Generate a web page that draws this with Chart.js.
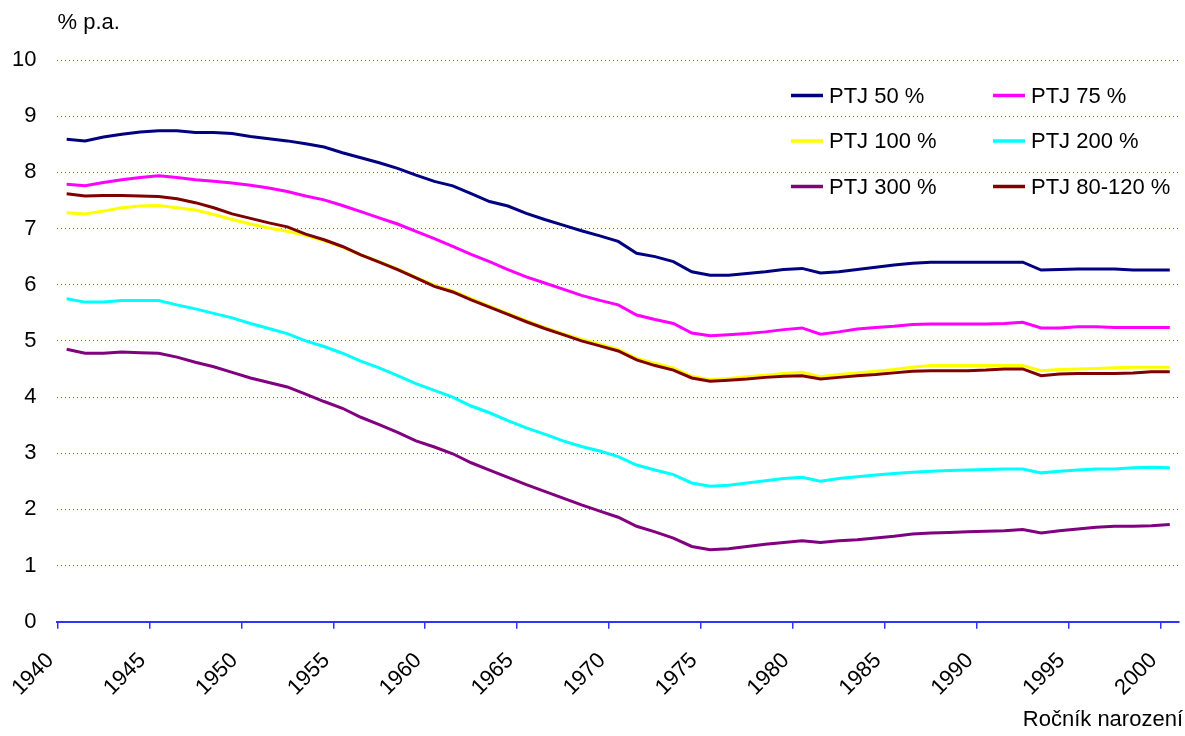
<!DOCTYPE html>
<html><head><meta charset="utf-8">
<script src="https://cdn.jsdelivr.net/npm/chart.js@4.4.1/dist/chart.umd.min.js"></script>
<style>html,body{margin:0;padding:0;background:#fff;}</style>
</head><body>
<canvas id="c" width="1185" height="736"></canvas>
<script>
// ---- data ----
const years = [1940,1941,1942,1943,1944,1945,1946,1947,1948,1949,
  1950,1951,1952,1953,1954,1955,1956,1957,1958,1959,
  1960,1961,1962,1963,1964,1965,1966,1967,1968,1969,
  1970,1971,1972,1973,1974,1975,1976,1977,1978,1979,
  1980,1981,1982,1983,1984,1985,1986,1987,1988,1989,
  1990,1991,1992,1993,1994,1995,1996,1997,1998,1999,2000];
const xTickLabels = ['1940','1945','1950','1955','1960','1965','1970','1975','1980','1985','1990','1995','2000'];
const seriesNames = ['PTJ 50 %','PTJ 75 %','PTJ 100 %','PTJ 200 %','PTJ 300 %','PTJ 80-120 %'];
const ptj50 = [8.59,8.56,8.63,8.68,8.72,8.74,8.74,8.71,8.71,8.69,
  8.64,8.60,8.56,8.51,8.45,8.35,8.26,8.17,8.07,7.95,
  7.84,7.76,7.62,7.48,7.40,7.27,7.16,7.06,6.96,6.87,
  6.77,6.56,6.50,6.41,6.23,6.17,6.17,6.20,6.23,6.27,
  6.29,6.21,6.23,6.27,6.31,6.35,6.38,6.40,6.40,6.40,
  6.40,6.40,6.40,6.26,6.27,6.28,6.28,6.28,6.26,6.26,6.26];
const ptj75 = [7.79,7.76,7.82,7.87,7.91,7.94,7.91,7.87,7.84,7.81,
  7.77,7.72,7.66,7.58,7.51,7.41,7.30,7.19,7.08,6.95,
  6.82,6.68,6.54,6.41,6.27,6.14,6.03,5.92,5.81,5.72,
  5.64,5.46,5.38,5.31,5.14,5.09,5.11,5.13,5.16,5.20,
  5.23,5.12,5.16,5.21,5.24,5.26,5.29,5.30,5.30,5.30,
  5.30,5.31,5.33,5.23,5.23,5.25,5.25,5.24,5.24,5.24,5.24];
const ptj100 = [7.28,7.26,7.31,7.37,7.40,7.41,7.37,7.33,7.25,7.16,
  7.08,7.01,6.95,6.88,6.78,6.67,6.53,6.41,6.28,6.13,
  5.99,5.89,5.75,5.62,5.49,5.36,5.24,5.13,5.03,4.94,
  4.85,4.69,4.60,4.52,4.37,4.31,4.33,4.36,4.39,4.42,
  4.44,4.36,4.40,4.43,4.46,4.49,4.53,4.56,4.56,4.56,
  4.56,4.56,4.56,4.47,4.49,4.50,4.51,4.52,4.53,4.53,4.53];
const ptj200 = [5.75,5.69,5.69,5.72,5.72,5.72,5.64,5.57,5.49,5.41,
  5.31,5.22,5.13,5.00,4.90,4.78,4.64,4.52,4.38,4.24,
  4.12,4.00,3.84,3.72,3.58,3.45,3.34,3.22,3.12,3.04,
  2.94,2.79,2.70,2.62,2.47,2.41,2.43,2.47,2.51,2.55,
  2.57,2.50,2.55,2.58,2.61,2.64,2.66,2.68,2.69,2.70,
  2.71,2.72,2.72,2.65,2.68,2.70,2.72,2.72,2.74,2.75,2.74];
const ptj300 = [4.85,4.78,4.78,4.80,4.79,4.78,4.71,4.62,4.54,4.44,
  4.34,4.26,4.18,4.05,3.92,3.80,3.64,3.51,3.37,3.22,
  3.11,2.99,2.83,2.70,2.57,2.44,2.32,2.20,2.08,1.97,
  1.86,1.70,1.60,1.49,1.34,1.28,1.30,1.34,1.38,1.41,
  1.44,1.41,1.44,1.46,1.49,1.52,1.56,1.58,1.59,1.60,
  1.61,1.62,1.64,1.58,1.62,1.65,1.68,1.70,1.70,1.71,1.73];
const ptj80120 = [7.62,7.58,7.59,7.59,7.58,7.57,7.53,7.46,7.37,7.26,
  7.18,7.10,7.03,6.90,6.80,6.68,6.53,6.40,6.27,6.12,
  5.97,5.87,5.73,5.60,5.47,5.34,5.22,5.11,5.00,4.91,
  4.82,4.66,4.56,4.48,4.34,4.28,4.30,4.32,4.35,4.37,
  4.38,4.32,4.35,4.38,4.40,4.43,4.46,4.47,4.47,4.47,
  4.48,4.50,4.50,4.38,4.41,4.42,4.42,4.42,4.43,4.45,4.45];
const yAxisTitle = '% p.a.';
const xAxisTitle = 'Ročník narození';

// ---- styles ----
const colors = ['#000080','#FF00FF','#FFFF00','#00FFFF','#800080','#800000'];
const gridBlue = '#4d4dff';
const axisBlue = '#3333ff';
const FONT = "'Liberation Sans', Arial, sans-serif";

Chart.defaults.font.family = FONT;
Chart.defaults.font.size = 22;
Chart.defaults.color = '#000';

const seriesValues = [ptj50, ptj75, ptj100, ptj200, ptj300, ptj80120];
const datasets = seriesValues.map((vals, i) => ({
  label: seriesNames[i],
  data: years.map((yr, j) => ({x: yr, y: vals[j]})),
  borderColor: colors[i],
  backgroundColor: colors[i],
  borderWidth: 3,
  pointRadius: 0,
  tension: 0,
  fill: false,
  order: i === 5 ? -1 : i
}));

const legendLayout = {colX: [791, 993], rowY: [95.5, 141, 186.5], lineLen: 32, gap: 6};

const decorPlugin = {
  id: 'decor',
  afterDraw(chart) {
    const ctx = chart.ctx, ca = chart.chartArea;
    ctx.save();
    ctx.font = '22px ' + FONT;
    ctx.fillStyle = '#000';
    ctx.textBaseline = 'middle';
    ctx.textAlign = 'left';
    ctx.fillText(yAxisTitle, ca.left, 23);
    ctx.textAlign = 'right';
    ctx.fillText(xAxisTitle, chart.width - 2, 720);
    // legend
    chart.data.datasets.forEach((ds, i) => {
      const col = i % 2, row = Math.floor(i / 2);
      const x = legendLayout.colX[col], y = legendLayout.rowY[row];
      ctx.strokeStyle = ds.borderColor;
      ctx.lineWidth = 3.5;
      ctx.beginPath();
      ctx.moveTo(x, y);
      ctx.lineTo(x + legendLayout.lineLen, y);
      ctx.stroke();
      ctx.textAlign = 'left';
      ctx.fillText(ds.label, x + legendLayout.lineLen + legendLayout.gap, y + 1);
    });
    ctx.restore();
  }
};

new Chart(document.getElementById('c'), {
  type: 'line',
  data: {datasets},
  plugins: [decorPlugin],
  options: {
    responsive: false,
    animation: false,
    layout: {padding: {left: 12, right: 6, top: 60, bottom: 16}},
    plugins: {legend: {display: false}, tooltip: {enabled: false}},
    scales: {
      x: {
        type: 'linear',
        bounds: 'data',
        min: years[0] - 0.5,
        max: years[years.length - 1] + 0.5,
        afterBuildTicks(scale) {
          scale.ticks = xTickLabels.map(l => ({value: Number(l) - 0.5}));
        },
        afterFit(scale) {
          scale.paddingLeft = 0;
          scale.paddingRight = 0;
        },
        ticks: {
          autoSkip: false,
          minRotation: 45,
          maxRotation: 45,
          padding: 19,
          labelOffset: -7,
          callback: (v, i) => xTickLabels[i]
        },
        grid: {drawOnChartArea: false, drawTicks: true, tickLength: 7, color: axisBlue, lineWidth: 1.5},
        border: {display: true, color: axisBlue, width: 2}
      },
      y: {
        min: 0,
        max: 10,
        afterFit(scale) {
          scale.width -= scale.options.ticks.padding;
        },
        ticks: {stepSize: 1, padding: 21},
        grid: {drawTicks: false, color: gridBlue, lineWidth: 1},
        border: {display: false, dash: [1, 3]}
      }
    }
  }
});
</script>
</body></html>
